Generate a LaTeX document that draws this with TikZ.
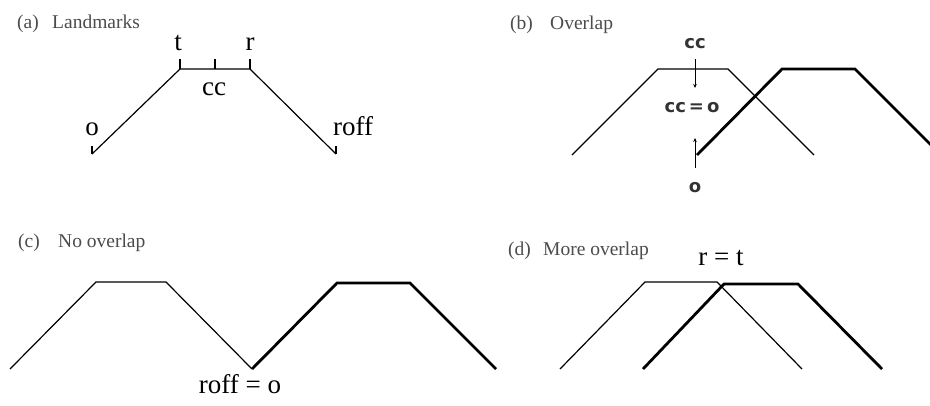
\documentclass[tikz,border=0pt]{standalone}
\usepackage{fontspec}
\setmainfont{Liberation Serif}
\newfontfamily\lblb{DejaVu Sans}
\usetikzlibrary{arrows.meta}
\tikzset{
  thinl/.style={line width=1.2pt, line join=miter},
  thickl/.style={line width=2.8pt, line join=miter},
  tick/.style={line width=1.2pt},
  title/.style={anchor=base west, inner sep=0pt, text=black!70, font=\fontsize{19.5}{19.5}\selectfont},
  lbl/.style={anchor=base, inner sep=0pt, font=\fontsize{27}{27}\selectfont},
  lblbb/.style={anchor=base, inner sep=0pt, text=black!80, font=\lblb\bfseries\fontsize{18}{18}\selectfont},
  smallarrow/.style={line width=1pt, -{Stealth[length=4pt,width=3.5pt]}}
}
\begin{document}
\begin{tikzpicture}[x=1pt,y=-1pt]
\useasboundingbox (0,0) rectangle (930,405);
\clip (0,0) rectangle (930,405);
\fill[white] (0,0) rectangle (930,405);

% ---------- (a) Landmarks ----------
\node[title] (ta1) at (17,28) {(a)};
\node[title] (ta2) at (52,28) {Landmarks};
\coordinate (ao) at (92,154);
\coordinate (at) at (180,69);
\coordinate (ac) at (215,69);
\coordinate (ar) at (250,69);
\coordinate (af) at (336,154);
\draw[thinl] (ao) -- (at) -- (ar) -- (af);
\draw[tick] (ao) -- ++(0,-8);
\draw[tick] (af) -- ++(0,-8);
\draw[tick] (at) -- ++(0,-10);
\draw[tick] (ac) -- ++(0,-10);
\draw[tick] (ar) -- ++(0,-10);
\node[lbl] (lt) at (178,50) {t};
\node[lbl] (lr) at (250,50) {r};
\node[lbl] (lcc) at (214,95) {cc};
\node[lbl] (lo) at (92,135) {o};
\node[lbl, anchor=base west] (lroff) at (333,135) {roff};

% ---------- (b) Overlap ----------
\node[title] (tb1) at (510,29) {(b)};
\node[title] (tb2) at (550,29) {Overlap};
\coordinate (b1) at (572,155);
\coordinate (b2) at (658,69);
\coordinate (b3) at (728,69);
\coordinate (b4) at (814,155);
\draw[thinl] (b1) -- (b2) -- (b3) -- (b4);
\coordinate (B1) at (697,155);
\coordinate (B2) at (782,69);
\coordinate (B3) at (855,69);
\coordinate (B4) at (941,155);
\draw[thickl] (B1) -- (B2) -- (B3) -- (B4);
\node[lblbb] (bcc) at (695,48) {cc};
\node[lblbb] (bcco) at (692,112) {cc\,=\,o};
\node[lblbb] (bo) at (695,192) {o};
\coordinate (bd1) at (695,59);
\coordinate (bd2) at (695,88);
\coordinate (bu1) at (695,168);
\coordinate (bu2) at (695,138);
\draw[smallarrow] (bd1) -- (bd2);
\draw[smallarrow] (bu1) -- (bu2);

% ---------- (c) No overlap ----------
\node[title] (tc1) at (18,247) {(c)};
\node[title] (tc2) at (58,247) {No overlap};
\coordinate (c1) at (10,369);
\coordinate (c2) at (96,282);
\coordinate (c3) at (166,282);
\coordinate (c4) at (252,369);
\draw[thinl] (c1) -- (c2) -- (c3) -- (c4);
\coordinate (C2) at (337,283);
\coordinate (C3) at (410,283);
\coordinate (C4) at (496,369);
\draw[thickl] (c4) -- (C2) -- (C3) -- (C4);
\node[lbl] (croff) at (240,393) {roff = o};

% ---------- (d) More overlap ----------
\node[title] (td1) at (508,255) {(d)};
\node[title] (td2) at (543,255) {More overlap};
\coordinate (d1) at (560,369);
\coordinate (d2) at (645,282);
\coordinate (d3) at (717,282);
\coordinate (d4) at (802,369);
\draw[thinl] (d1) -- (d2) -- (d3) -- (d4);
\coordinate (D1) at (643,369);
\coordinate (D2) at (724,284);
\coordinate (D3) at (798,284);
\coordinate (D4) at (882,369);
\draw[thickl] (D1) -- (D2) -- (D3) -- (D4);
\node[lbl] (drt) at (721,265) {r = t};
\end{tikzpicture}
\end{document}
